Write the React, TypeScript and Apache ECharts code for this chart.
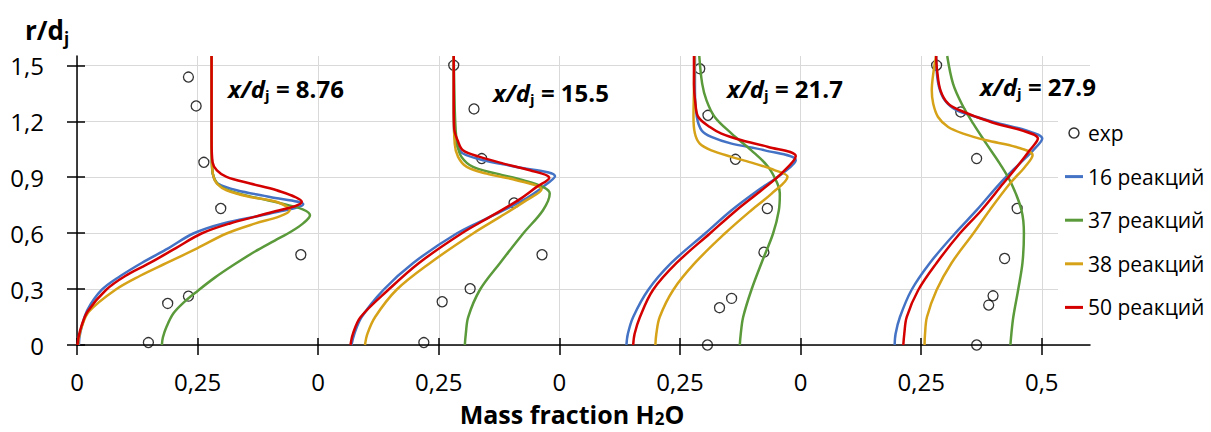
import React, { useEffect, useRef } from 'react';
import * as echarts from 'echarts';

const F = '"Open Sans", "Noto Sans", sans-serif';

const seriesNames = ['16 реакций', '37 реакций', '38 реакций', '50 реакций'];
const seriesColors = ['#4472C4', '#5B9A3B', '#D6A218', '#D40000'];
const expName = 'exp';
const panelOffsets = [0, 0.5, 1.0, 1.5];
const panelLabels = ['8.76', '15.5', '21.7', '27.9'];
const xTickValues = [0, 0.25, 0.5, 0.75, 1, 1.25, 1.5, 1.75, 2];
const xTickLabels = ['0', '0,25', '0', '0,25', '0', '0,25', '0', '0,25', '0,5'];
const yTickValues = [0, 0.3, 0.6, 0.9, 1.2, 1.5];
const yTickLabels = ['0', '0,3', '0,6', '0,9', '1,2', '1,5'];

// Each pair: [mass fraction (within panel), r/dj]
// Panel 1: x/dj = 8.76
const p1_16 = [[0.004,0],[0.005,0.04],[0.010,0.10],[0.022,0.19],[0.051,0.295],[0.090,0.37],[0.134,0.44],[0.190,0.52],[0.241,0.598],[0.303,0.652],[0.400,0.705],[0.469,0.755],[0.400,0.794],[0.331,0.83],[0.292,0.866],[0.283,0.902],[0.280,0.96],[0.279,1.1],[0.279,1.55]];
const p1_37 = [[0.176,0],[0.178,0.04],[0.186,0.10],[0.200,0.17],[0.222,0.23],[0.250,0.29],[0.285,0.36],[0.325,0.43],[0.368,0.50],[0.410,0.56],[0.445,0.61],[0.470,0.655],[0.483,0.696],[0.468,0.727],[0.430,0.755],[0.380,0.785],[0.330,0.815],[0.298,0.85],[0.285,0.89],[0.280,0.95],[0.279,1.1],[0.279,1.55]];
const p1_38 = [[0.002,0],[0.004,0.04],[0.010,0.10],[0.025,0.18],[0.079,0.295],[0.130,0.37],[0.186,0.44],[0.250,0.52],[0.310,0.598],[0.370,0.652],[0.420,0.69],[0.441,0.723],[0.413,0.768],[0.359,0.794],[0.310,0.83],[0.290,0.866],[0.283,0.902],[0.280,0.96],[0.279,1.1],[0.279,1.55]];
const p1_50 = [[0.001,0],[0.003,0.04],[0.009,0.10],[0.022,0.18],[0.060,0.295],[0.100,0.37],[0.151,0.44],[0.205,0.52],[0.258,0.598],[0.317,0.652],[0.393,0.705],[0.466,0.768],[0.414,0.83],[0.359,0.866],[0.310,0.902],[0.290,0.937],[0.281,0.98],[0.279,1.1],[0.279,1.55]];
const p1_exp = [[0.231,1.437],[0.247,1.282],[0.263,0.980],[0.298,0.732],[0.464,0.484],[0.231,0.262],[0.188,0.223],[0.148,0.013]];

// Panel 2: x/dj = 15.5
const p2_16 = [[0.069,0],[0.075,0.06],[0.090,0.15],[0.135,0.295],[0.197,0.44],[0.287,0.598],[0.356,0.687],[0.425,0.777],[0.466,0.848],[0.491,0.905],[0.411,0.955],[0.342,0.991],[0.300,1.027],[0.289,1.062],[0.282,1.13],[0.281,1.3],[0.281,1.55]];
const p2_37 = [[0.304,0],[0.306,0.06],[0.311,0.15],[0.335,0.295],[0.377,0.44],[0.425,0.598],[0.466,0.723],[0.480,0.812],[0.466,0.848],[0.425,0.884],[0.370,0.919],[0.321,0.955],[0.297,1.009],[0.288,1.08],[0.284,1.2],[0.282,1.4],[0.281,1.55]];
const p2_38 = [[0.097,0],[0.102,0.06],[0.118,0.15],[0.162,0.295],[0.232,0.44],[0.321,0.598],[0.377,0.687],[0.432,0.777],[0.463,0.834],[0.411,0.884],[0.349,0.919],[0.308,0.955],[0.290,1.009],[0.283,1.08],[0.281,1.3],[0.281,1.55]];
const p2_50 = [[0.067,0],[0.072,0.06],[0.088,0.15],[0.145,0.295],[0.209,0.44],[0.297,0.598],[0.356,0.687],[0.415,0.777],[0.453,0.848],[0.479,0.896],[0.439,0.937],[0.384,0.973],[0.335,1.009],[0.300,1.044],[0.289,1.098],[0.282,1.16],[0.281,1.3],[0.281,1.55]];
const p2_exp = [[0.281,1.50],[0.323,1.266],[0.339,1.0],[0.406,0.762],[0.464,0.484],[0.315,0.302],[0.257,0.232],[0.219,0.013]];

// Panel 3: x/dj = 21.7
const p3_16 = [[0.139,0],[0.142,0.06],[0.153,0.15],[0.184,0.295],[0.232,0.44],[0.302,0.598],[0.357,0.723],[0.412,0.83],[0.453,0.902],[0.490,0.991],[0.426,1.044],[0.357,1.08],[0.315,1.116],[0.295,1.151],[0.285,1.223],[0.281,1.366],[0.281,1.55]];
const p3_37 = [[0.374,0],[0.376,0.06],[0.381,0.15],[0.398,0.295],[0.419,0.44],[0.443,0.598],[0.455,0.723],[0.457,0.812],[0.452,0.866],[0.433,0.955],[0.398,1.044],[0.357,1.134],[0.322,1.223],[0.305,1.312],[0.296,1.402],[0.290,1.55]];
const p3_38 = [[0.199,0],[0.201,0.06],[0.208,0.15],[0.236,0.295],[0.281,0.44],[0.343,0.598],[0.398,0.723],[0.440,0.812],[0.473,0.902],[0.447,0.937],[0.405,0.973],[0.357,1.009],[0.315,1.044],[0.291,1.08],[0.281,1.134],[0.278,1.223],[0.279,1.366],[0.280,1.55]];
const p3_50 = [[0.153,0],[0.156,0.06],[0.167,0.15],[0.194,0.295],[0.243,0.44],[0.312,0.598],[0.367,0.723],[0.419,0.83],[0.460,0.919],[0.490,1.012],[0.433,1.062],[0.378,1.098],[0.336,1.134],[0.312,1.169],[0.288,1.223],[0.282,1.294],[0.279,1.4],[0.279,1.55]];
const p3_exp = [[0.291,1.482],[0.308,1.232],[0.365,0.996],[0.431,0.732],[0.424,0.498],[0.357,0.25],[0.332,0.2],[0.307,0.0]];

// Panel 4: x/dj = 27.9
const p4_16 = [[0.195,0],[0.197,0.06],[0.206,0.15],[0.230,0.295],[0.268,0.44],[0.320,0.598],[0.365,0.723],[0.413,0.866],[0.454,0.973],[0.482,1.044],[0.501,1.107],[0.468,1.151],[0.413,1.187],[0.365,1.223],[0.323,1.259],[0.299,1.312],[0.287,1.384],[0.282,1.473],[0.281,1.55]];
const p4_37 = [[0.435,0],[0.437,0.06],[0.441,0.15],[0.451,0.295],[0.460,0.44],[0.463,0.598],[0.458,0.723],[0.437,0.866],[0.413,0.973],[0.385,1.08],[0.358,1.187],[0.334,1.294],[0.316,1.402],[0.304,1.55]];
const p4_38 = [[0.257,0],[0.258,0.06],[0.262,0.15],[0.282,0.295],[0.313,0.44],[0.358,0.598],[0.392,0.723],[0.434,0.866],[0.465,0.955],[0.481,1.018],[0.447,1.062],[0.385,1.098],[0.337,1.134],[0.306,1.169],[0.285,1.223],[0.275,1.294],[0.272,1.366],[0.276,1.473],[0.281,1.55]];
const p4_50 = [[0.213,0],[0.215,0.06],[0.220,0.15],[0.244,0.295],[0.282,0.44],[0.330,0.598],[0.375,0.723],[0.420,0.866],[0.454,0.973],[0.475,1.044],[0.492,1.107],[0.458,1.151],[0.406,1.187],[0.365,1.223],[0.330,1.259],[0.306,1.294],[0.290,1.366],[0.283,1.473],[0.281,1.55]];
const p4_exp = [[0.282,1.50],[0.332,1.25],[0.365,1.0],[0.449,0.732],[0.423,0.464],[0.399,0.264],[0.39,0.214],[0.365,0.0]];

const panelCurves = [
  [p1_16, p1_37, p1_38, p1_50],
  [p2_16, p2_37, p2_38, p2_50],
  [p3_16, p3_37, p3_38, p3_50],
  [p4_16, p4_37, p4_38, p4_50],
];
const panelExp = [p1_exp, p2_exp, p3_exp, p4_exp];

// annotation placement (pixels)
const annotPos = [[228, 88], [493, 92], [727, 88], [980, 86]];

const fmt = (vals: number[], labels: string[]) => (v: number) => {
  const i = vals.findIndex((t) => Math.abs(t - v) < 1e-6);
  return i >= 0 ? labels[i] : '';
};

export default function App() {
  const ref = useRef<HTMLDivElement>(null);
  useEffect(() => {
    if (!ref.current) return;
    const chart = echarts.init(ref.current, undefined, { renderer: 'svg' });

    const shift = (arr: number[][], off: number) => arr.map((p) => [p[0] + off, p[1]]);

    const series: any[] = [];
    panelExp.forEach((pts, pi) => {
      series.push({
        name: expName,
        type: 'scatter',
        data: shift(pts, panelOffsets[pi]),
        symbol: 'circle',
        symbolSize: 10,
        itemStyle: { color: 'rgba(0,0,0,0)', borderColor: '#000', borderWidth: 1.3 },
        z: 2,
      });
    });
    [0, 1, 2, 3].forEach((mi) => {
      panelCurves.forEach((curves, pi) => {
        series.push({
          name: seriesNames[mi],
          type: 'line',
          data: shift(curves[mi], panelOffsets[pi]),
          showSymbol: false,
          symbol: 'none',
          smooth: 0.35,
          lineStyle: { color: seriesColors[mi], width: 2.5 },
          itemStyle: { color: seriesColors[mi] },
          z: 3 + mi,
        });
      });
    });

    const axisLineStyle = { color: '#000', width: 1.5 };
    const graphic: any[] = [];
    panelLabels.forEach((lab, i) => {
      graphic.push({
        type: 'text',
        x: annotPos[i][0],
        y: annotPos[i][1],
        style: {
          text: `{i|x/d}{s|j}{b| = ${lab}}`,
          align: 'left',
          verticalAlign: 'middle',
          fill: '#000',
          rich: {
            i: { fontFamily: F, fontSize: 24, fontWeight: 'bold', fontStyle: 'italic', lineHeight: 28, fill: '#000' },
            s: { fontFamily: F, fontSize: 15, fontWeight: 'bold', lineHeight: 15, verticalAlign: 'bottom', fill: '#000' },
            b: { fontFamily: F, fontSize: 24, fontWeight: 'bold', lineHeight: 28, fill: '#000' },
          },
        },
        z: 10,
      });
    });
    graphic.push({
      type: 'text',
      x: 25,
      y: 30,
      style: {
        text: '{a|r/d}{s|j}',
        align: 'left',
        verticalAlign: 'middle',
        fill: '#000',
        rich: {
          a: { fontFamily: F, fontSize: 26, fontWeight: 'bold', lineHeight: 33, fill: '#000' },
          s: { fontFamily: F, fontSize: 17, fontWeight: 'bold', lineHeight: 17, verticalAlign: 'bottom', fill: '#000' },
        },
      },
    });
    graphic.push({
      type: 'text',
      x: 572,
      y: 414,
      style: {
        text: '{a|Mass fraction H}{s|2}{a|O}',
        align: 'center',
        verticalAlign: 'middle',
        fill: '#000',
        rich: {
          a: { fontFamily: F, fontSize: 25, fontWeight: 'bold', lineHeight: 26, fill: '#000' },
          s: { fontFamily: F, fontSize: 17, fontWeight: 'bold', lineHeight: 17, verticalAlign: 'bottom', fill: '#000' },
        },
      },
    });

    const lineIcon = 'path://M0,0L18,0L18,3L0,3Z';

    chart.setOption({
      animation: false,
      backgroundColor: '#fff',
      grid: { left: 77, top: 56, width: 1013, height: 289 },
      xAxis: [
        {
          type: 'value', min: 0, max: 2.1, interval: 0.25, position: 'bottom',
          axisLine: { show: true, onZero: false, lineStyle: axisLineStyle },
          axisTick: { show: true, length: 10, customValues: xTickValues, lineStyle: axisLineStyle },
          axisLabel: { customValues: xTickValues, formatter: fmt(xTickValues, xTickLabels), fontSize: 24, fontFamily: F, color: '#000', margin: 24 },
          splitLine: { show: true, lineStyle: { color: '#d9d9d9', width: 1 } },
        },
        {
          type: 'value', min: 0, max: 2.1, interval: 0.25, position: 'bottom',
          axisLine: { show: false },
          axisTick: { show: true, inside: true, length: 7, customValues: xTickValues, lineStyle: axisLineStyle },
          axisLabel: { show: false },
          splitLine: { show: false },
        },
      ],
      yAxis: [
        {
          type: 'value', min: 0, max: 1.55, interval: 0.3, position: 'left',
          axisLine: { show: true, onZero: false, lineStyle: axisLineStyle },
          axisTick: { show: true, length: 10, customValues: yTickValues, lineStyle: axisLineStyle },
          axisLabel: { customValues: yTickValues, formatter: fmt(yTickValues, yTickLabels), fontSize: 24, fontFamily: F, color: '#000', margin: 33 },
          splitLine: { show: true, lineStyle: { color: '#d9d9d9', width: 1 } },
        },
        {
          type: 'value', min: 0, max: 1.55, interval: 0.3, position: 'left',
          axisLine: { show: false },
          axisTick: { show: true, inside: true, length: 8, customValues: yTickValues, lineStyle: axisLineStyle },
          axisLabel: { show: false },
          splitLine: { show: false },
        },
      ],
      legend: {
        orient: 'vertical',
        left: 1058,
        top: 112,
        padding: [10, 5, 10, 7],
        backgroundColor: '#fff',
        itemWidth: 18,
        itemHeight: 10,
        itemGap: 21.6,
        selectedMode: false,
        textStyle: { fontFamily: F, fontSize: 21, color: '#000', lineHeight: 22 },
        data: [
          { name: expName, icon: 'circle', itemStyle: { color: '#fff', borderColor: '#000', borderWidth: 1.5 } },
          ...seriesNames.map((n, i) => ({ name: n, icon: lineIcon, itemStyle: { color: seriesColors[i], borderWidth: 0 } })),
        ],
        z: 8,
      },
      graphic,
      series,
    });
    return () => chart.dispose();
  }, []);
  return <div ref={ref} style={{ position: 'absolute', left: 0, top: 0, width: 1211, height: 432 }} />;
}
